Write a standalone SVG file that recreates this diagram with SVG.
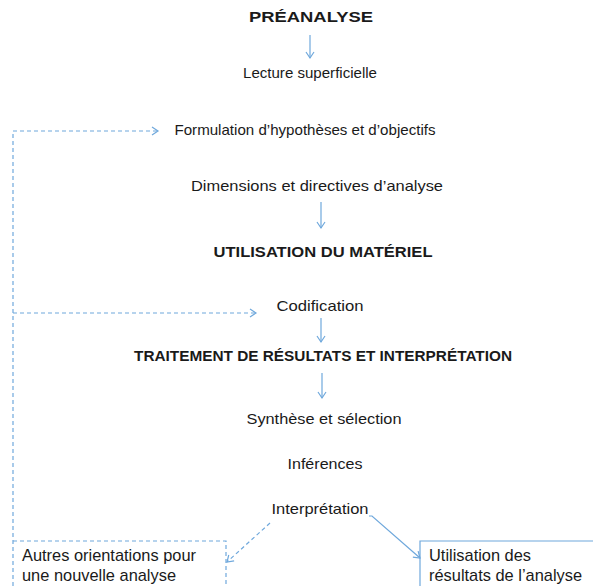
<svg xmlns="http://www.w3.org/2000/svg" width="593" height="586" viewBox="0 0 593 586">
  <style>
    text { font-family: "Liberation Sans", Arial, sans-serif; font-size: 15px; fill: #1a1a1a; }
    .h { font-weight: bold; font-size: 15.5px; }
    .c { text-anchor: middle; }
    .box { font-size: 16.4px; }
    .solid { fill: none; stroke: #6fa8dc; stroke-width: 1.2; }
    .dash { fill: none; stroke: #6fa8dc; stroke-width: 1.2; stroke-dasharray: 4 3; }
  </style>
  <defs>
    <marker id="chev" markerWidth="10" markerHeight="10" refX="8" refY="5" orient="auto" markerUnits="userSpaceOnUse">
      <path d="M2,1 L8,5 L2,9" fill="none" stroke="#6fa8dc" stroke-width="1.2"/>
    </marker>
  </defs>
  <rect width="593" height="586" fill="#ffffff"/>

  <g id="connectors">
    <line class="solid" x1="310" y1="35" x2="310" y2="58" marker-end="url(#chev)"/>
    <line class="solid" x1="321" y1="202" x2="321" y2="228" marker-end="url(#chev)"/>
    <line class="solid" x1="321" y1="318" x2="321" y2="342" marker-end="url(#chev)"/>
    <line class="solid" x1="322" y1="373" x2="322" y2="398" marker-end="url(#chev)"/>
    <!-- feedback loop on the left -->
    <polyline class="dash" points="13,586 13,131 158,131" marker-end="url(#chev)"/>
    <line class="dash" x1="13" y1="313" x2="256" y2="313" marker-end="url(#chev)"/>
    <line class="dash" x1="270" y1="523" x2="227" y2="562" marker-end="url(#chev)"/>
    <polyline class="solid" points="369,516 372,516 420,558" marker-end="url(#chev)"/>
  </g>

  <g id="preanalyse"><text class="h c" x="311" y="22" textLength="124" lengthAdjust="spacingAndGlyphs">PRÉANALYSE</text></g>
  <g id="lecture"><text class="c" x="310" y="78" textLength="134" lengthAdjust="spacingAndGlyphs">Lecture superficielle</text></g>
  <g id="formulation"><text class="c" x="305" y="135" textLength="261" lengthAdjust="spacingAndGlyphs">Formulation d’hypothèses et d’objectifs</text></g>
  <g id="dimensions"><text class="c" x="317" y="191" textLength="252" lengthAdjust="spacingAndGlyphs">Dimensions et directives d’analyse</text></g>
  <g id="utilisation-materiel"><text class="h c" x="323" y="257" textLength="219" lengthAdjust="spacingAndGlyphs">UTILISATION DU MATÉRIEL</text></g>
  <g id="codification"><text class="c" x="320" y="311" textLength="87" lengthAdjust="spacingAndGlyphs">Codification</text></g>
  <g id="traitement"><text class="h c" x="323" y="361" textLength="378" lengthAdjust="spacingAndGlyphs">TRAITEMENT DE RÉSULTATS ET INTERPRÉTATION</text></g>
  <g id="synthese"><text class="c" x="324" y="424" textLength="155" lengthAdjust="spacingAndGlyphs">Synthèse et sélection</text></g>
  <g id="inferences"><text class="c" x="325" y="469" textLength="75" lengthAdjust="spacingAndGlyphs">Inférences</text></g>
  <g id="interpretation"><text class="c" x="320" y="514" textLength="97" lengthAdjust="spacingAndGlyphs">Interprétation</text></g>

  <g id="autres-orientations">
    <polyline class="dash" points="13,541 226,541 226,586"/>
    <text class="box" x="22" y="561">Autres orientations pour</text>
    <text class="box" x="22" y="581">une nouvelle analyse</text>
  </g>
  <g id="utilisation-resultats">
    <polyline class="solid" points="420,586 420,541 593,541"/>
    <text class="box" x="429" y="561">Utilisation des</text>
    <text class="box" x="429" y="581">résultats de l’analyse</text>
  </g>
</svg>
